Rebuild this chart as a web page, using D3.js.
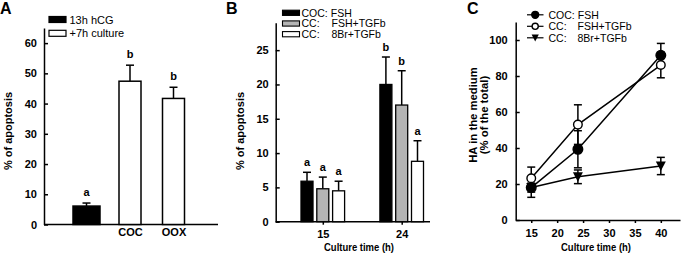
<!DOCTYPE html>
<html>
<head>
<meta charset="utf-8">
<script src="https://cdn.jsdelivr.net/npm/d3@7"></script>
<style>
  body { margin: 0; background: #fff; }
  svg { display: block; font-family: "Liberation Sans", Arial, sans-serif; }
  .tick text { font-weight: bold; font-size: 11px; }
  .domain, .tick line { stroke: #000; stroke-width: 1.5; }
</style>
</head>
<body>
<script>
// ---- panel A data
var aCats = ["13h hCG", "COC", "OOX"];
var aTickLabels = ["", "COC", "OOX"];
var aValues = [6.1, 47.4, 41.7];
var aErrors = [1.0, 5.3, 3.7];
var aLetters = ["a", "b", "b"];
var aLegend = ["13h hCG", "+7h culture"];
var aYTicks = [0, 10, 20, 30, 40, 50, 60];

// ---- panel B data
var bTimes = ["15", "24"];
var bSeries = ["COC: FSH", "CC: FSH+TGFb", "CC: 8Br+TGFb"];
var bPrefix = ["COC:", "CC:", "CC:"];
var bSuffix = ["FSH", "FSH+TGFb", "8Br+TGFb"];
var bFSH = [5.9, 20.0];
var bFSHTGF = [4.8, 17.0];
var b8BrTGF = [4.5, 8.8];
var bFSHErr = [1.3, 4.0];
var bFSHTGFErr = [1.7, 5.0];
var b8BrTGFErr = [1.4, 3.0];
var bLetters15 = ["a", "a", "a"];
var bLetters24 = ["b", "b", "a"];
var bYTicks = [0, 5, 10, 15, 20, 25];

// ---- panel C data
var cTimes = [15, 24, 40];
var cFSH = [18, 39.3, 91.5];
var cFSHTGF = [23.2, 53, 86.1];
var c8BrTGF = [18, 24, 30];
var cFSHErr = [5.4, 10.3, 6.6];
var cFSHTGFErr = [6.2, 11, 7.1];
var c8BrTGFErr = [2.5, 3.8, 4.8];
var cXTicks = [15, 20, 25, 30, 35, 40];
var cYTicks = [0, 20, 40, 60, 80, 100];

var W = 683, H = 254;
var svg = d3.select("body").append("svg").attr("width", W).attr("height", H);

function panelLetter(t, x, y) {
  svg.append("text").attr("x", x).attr("y", y).text(t)
    .style("font-weight", "bold").style("font-size", "16px");
}
function yLabel(lines, x, y, size) {
  var t = svg.append("text").attr("transform", "translate(" + x + "," + y + ") rotate(-90)")
    .attr("text-anchor", "middle").style("font-weight", "bold").style("font-size", size + "px");
  lines.forEach(function (l, i) {
    t.append("tspan").attr("x", 0).attr("dy", i == 0 ? 0 : "1em").text(l);
  });
}
function xLabel(txt, x, y) {
  svg.append("text").attr("x", x).attr("y", y).attr("text-anchor", "middle")
    .attr("textLength", 70).attr("lengthAdjust", "spacingAndGlyphs")
    .style("font-weight", "bold").style("font-size", "11px").text(txt);
}
function errBar(g, x, y0, y1, cap) {
  g.append("line").attr("x1", x).attr("x2", x).attr("y1", y0).attr("y2", y1)
    .attr("stroke", "#000").attr("stroke-width", 1.5);
  g.append("line").attr("x1", x - cap / 2).attr("x2", x + cap / 2).attr("y1", y1).attr("y2", y1)
    .attr("stroke", "#000").attr("stroke-width", 1.5);
}

// ================= Panel A
(function () {
  var y = d3.scaleLinear().domain([0, 65]).range([224.5, 28]);
  var x = d3.scalePoint().domain(aCats).range([86.5, 173.5]);
  var g = svg.append("g");

  g.append("g").attr("transform", "translate(44,0)")
    .call(d3.axisLeft(y).tickValues(aYTicks).tickSizeInner(-4).tickSizeOuter(0).tickPadding(7));
  g.append("g").attr("transform", "translate(0," + y(0) + ")")
    .call(d3.axisBottom(d3.scalePoint().domain(aTickLabels).range([86.5, 173.5]))
      .tickSize(0).tickPadding(4))
    .call(function (s) {
      s.select(".domain").attr("d", "M44,0H218");
    });

  aCats.forEach(function (c, i) {
    var w = i == 0 ? 27 : 22;
    var cx = x(c);
    errBar(g, cx, y(aValues[i]), y(aValues[i] + aErrors[i]), 8);
    g.append("rect").attr("x", cx - w / 2).attr("y", y(aValues[i]))
      .attr("width", w).attr("height", y(0) - y(aValues[i]))
      .attr("fill", i == 0 ? "#000" : "#fff").attr("stroke", "#000").attr("stroke-width", 1.5);
    g.append("text").attr("x", cx).attr("y", y(aValues[i] + aErrors[i]) - 7.5)
      .attr("text-anchor", "middle").style("font-weight", "bold").style("font-size", "11px")
      .text(aLetters[i]);
  });

  aLegend.forEach(function (l, i) {
    var cy = 19.5 + i * 13.8;
    g.append("rect").attr("x", 49).attr("y", cy - 3).attr("width", 17).attr("height", 6)
      .attr("fill", i == 0 ? "#000" : "#fff").attr("stroke", "#000").attr("stroke-width", 1.2);
    g.append("text").attr("x", 69.5).attr("y", cy + 4).style("font-size", "11px").text(l);
  });

  panelLetter("A", 0, 14);
  yLabel(["% of apoptosis"], 12.3, 131, 11);
})();

// ================= Panel B
(function () {
  var y = d3.scaleLinear().domain([0, 29]).range([221.7, 22.7]);
  var x0 = d3.scalePoint().domain(bTimes).range([322.8, 401.7]);
  var x1 = d3.scalePoint().domain(bSeries).range([-15.8, 15.8]);
  var fills = ["#000", "#b4b4b4", "#fff"];
  var vals = [bFSH, bFSHTGF, b8BrTGF];
  var errs = [bFSHErr, bFSHTGFErr, b8BrTGFErr];
  var letters = [bLetters15, bLetters24];
  var g = svg.append("g");

  g.append("g").attr("transform", "translate(275.7,0)")
    .call(d3.axisLeft(y).tickValues(bYTicks).tickSizeInner(-4).tickSizeOuter(0).tickPadding(7));
  g.append("g").attr("transform", "translate(0," + y(0) + ")")
    .call(d3.axisBottom(x0).tickSizeInner(3).tickSizeOuter(0).tickPadding(5.5))
    .call(function (s) {
      s.select(".domain").attr("d", "M275.7,0H430");
    });

  bTimes.forEach(function (t, ti) {
    bSeries.forEach(function (s, si) {
      var cx = x0(t) + x1(s);
      var v = vals[si][ti], e = errs[si][ti];
      errBar(g, cx, y(v), y(v + e), 8);
      g.append("rect").attr("x", cx - 6).attr("y", y(v)).attr("width", 12)
        .attr("height", y(0) - y(v)).attr("fill", fills[si])
        .attr("stroke", "#000").attr("stroke-width", 1.3);
      g.append("text").attr("x", cx).attr("y", y(v + e) - 6)
        .attr("text-anchor", "middle").style("font-weight", "bold").style("font-size", "11px")
        .text(letters[ti][si]);
    });
  });

  bSeries.forEach(function (s, i) {
    var cy = 12.8 + i * 10.7;
    g.append("rect").attr("x", 282.5).attr("y", cy - 2.6).attr("width", 17).attr("height", 5.2)
      .attr("fill", fills[i]).attr("stroke", "#000").attr("stroke-width", 1.1);
    var t = g.append("text").attr("x", 301.5).attr("y", cy + 3.8).style("font-size", "10.5px");
    t.append("tspan").text(bPrefix[i]);
    if (i == 0) t.append("tspan").attr("dx", 3).text(bSuffix[i]);
    else t.append("tspan").attr("x", 331.5).text(bSuffix[i]);
  });

  panelLetter("B", 226, 13.5);
  yLabel(["% of apoptosis"], 244, 131, 11);
  xLabel("Culture time (h)", 359, 251);
})();

// ================= Panel C
(function () {
  var y = d3.scaleLinear().domain([0, 110]).range([220, 22]);
  var x = d3.scaleLinear().domain([12, 43.7]).range([515.7, 680]);
  var g = svg.append("g");

  g.append("g").attr("transform", "translate(515.7,0)")
    .call(d3.axisLeft(y).tickValues(cYTicks).tickSizeInner(-4).tickSizeOuter(0).tickPadding(8));
  g.append("g").attr("transform", "translate(0," + y(0) + ")")
    .call(d3.axisBottom(x).tickValues(cXTicks).tickSizeInner(3).tickSizeOuter(0).tickPadding(6.5));

  var series = [
    { name: "8Br", v: c8BrTGF, e: c8BrTGFErr, sym: "tri" },
    { name: "FSH", v: cFSH, e: cFSHErr, sym: "fill" },
    { name: "FSHTGF", v: cFSHTGF, e: cFSHTGFErr, sym: "open" }
  ];
  var line = d3.line().x(function (d) { return x(d[0]); }).y(function (d) { return y(d[1]); });

  function marker(sel, sym, cx, cy, k) {
    if (sym == "tri") {
      sel.append("path").attr("d", "M" + (cx - 5 * k) + "," + (cy - 4.5 * k) + "L" + (cx + 5 * k) + "," + (cy - 4.5 * k) + "L" + cx + "," + (cy + 5 * k) + "Z")
        .attr("fill", "#000");
    } else {
      sel.append("circle").attr("cx", cx).attr("cy", cy).attr("r", (sym == "fill" ? 4.8 : 4.3) * k)
        .attr("fill", sym == "fill" ? "#000" : "#fff")
        .attr("stroke", "#000").attr("stroke-width", 1.4);
    }
  }

  series.forEach(function (s) {
    var pts = cTimes.map(function (t, i) { return [t, s.v[i]]; });
    g.append("path").datum(pts).attr("d", line).attr("fill", "none")
      .attr("stroke", "#000").attr("stroke-width", 1.5);
  });
  series.forEach(function (s) {
    cTimes.forEach(function (t, i) {
      errBar(g, x(t), y(s.v[i]), y(s.v[i] + s.e[i]), 8);
      errBar(g, x(t), y(s.v[i]), y(s.v[i] - s.e[i]), 8);
    });
  });
  series.forEach(function (s) {
    cTimes.forEach(function (t, i) { marker(g, s.sym, x(t), y(s.v[i]), 1); });
  });

  var legSym = ["fill", "open", "tri"];
  bPrefix.forEach(function (p, i) {
    var cy = 14.8 + i * 11.5;
    g.append("line").attr("x1", 527).attr("x2", 543.5).attr("y1", cy).attr("y2", cy)
      .attr("stroke", "#000").attr("stroke-width", 1.2);
    marker(g, legSym[i], 535.2, cy, 0.72);
    var t = g.append("text").attr("x", 548.5).attr("y", cy + 4).style("font-size", "10.5px");
    t.append("tspan").text(p);
    if (i == 0) t.append("tspan").attr("dx", 3).text(bSuffix[i]);
    else t.append("tspan").attr("x", 577.5).text(bSuffix[i]);
  });

  panelLetter("C", 467, 14);
  yLabel(["HA in the medium", "(% of the total)"], 476.5, 115, 11.3);
  xLabel("Culture time (h)", 596, 251);
})();
</script>
</body>
</html>
